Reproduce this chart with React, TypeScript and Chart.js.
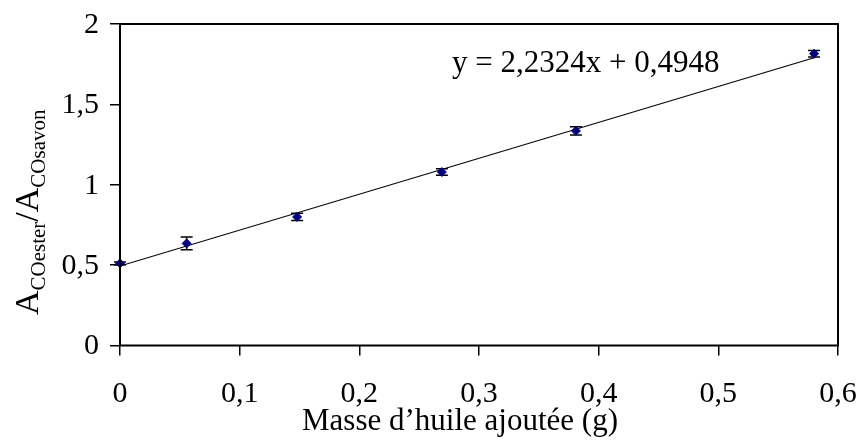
import React, { useEffect, useRef } from "react";
import { Chart, registerables } from "chart.js";

Chart.register(...registerables);

// ---- data ----
const massX = [0, 0.0557, 0.148, 0.269, 0.381, 0.58];
const ratioY = [0.511, 0.635, 0.8, 1.079, 1.335, 1.815];
const errorY = [0.008, 0.04, 0.022, 0.02, 0.026, 0.02];
const trendX = [0, 0.58];
const trendY = [0.4948, 1.7896];
const xTickValues = [0, 0.1, 0.2, 0.3, 0.4, 0.5, 0.6];
const xTickLabels = ["0", "0,1", "0,2", "0,3", "0,4", "0,5", "0,6"];
const yTickValues = [0, 0.5, 1, 1.5, 2];
const yTickLabels = ["0", "0,5", "1", "1,5", "2"];
const equationText = "y = 2,2324x + 0,4948";
const xTitleText = "Masse d\u2019huile ajoutée (g)";
const yTitleParts = [
  { text: "A", sub: false },
  { text: "COester", sub: true },
  { text: "/", sub: false },
  { text: "A", sub: false },
  { text: "COsavon", sub: true },
];

const FONT = "'Liberation Serif', 'Times New Roman', serif";

const decorPlugin = {
  id: "decor",
  beforeDatasetsDraw(chart: any) {
    const { ctx, scales } = chart;
    const x = scales.x;
    const y = scales.y;
    ctx.save();
    ctx.strokeStyle = "#000";
    ctx.lineWidth = 1.5;
    massX.forEach((mx, i) => {
      const px = x.getPixelForValue(mx);
      const top = y.getPixelForValue(ratioY[i] + errorY[i]);
      const bot = y.getPixelForValue(ratioY[i] - errorY[i]);
      ctx.beginPath();
      ctx.moveTo(px, top);
      ctx.lineTo(px, bot);
      ctx.moveTo(px - 6, top);
      ctx.lineTo(px + 6, top);
      ctx.moveTo(px - 6, bot);
      ctx.lineTo(px + 6, bot);
      ctx.stroke();
    });
    ctx.restore();
  },
  afterDraw(chart: any) {
    const { ctx, chartArea, scales } = chart;
    const x = scales.x;
    const y = scales.y;
    ctx.save();
    // plot box
    ctx.strokeStyle = "#000";
    ctx.lineWidth = 2;
    ctx.strokeRect(
      chartArea.left,
      chartArea.top,
      chartArea.right - chartArea.left,
      chartArea.bottom - chartArea.top
    );
    ctx.fillStyle = "#000";
    // tick labels
    ctx.font = `30px ${FONT}`;
    ctx.textAlign = "center";
    ctx.textBaseline = "middle";
    xTickValues.forEach((v, i) => {
      ctx.fillText(xTickLabels[i], x.getPixelForValue(v), 394);
    });
    ctx.textAlign = "right";
    yTickValues.forEach((v, i) => {
      ctx.fillText(yTickLabels[i], chartArea.left - 21, y.getPixelForValue(v) + 1);
    });
    // equation
    ctx.font = `31px ${FONT}`;
    ctx.textAlign = "left";
    ctx.textBaseline = "alphabetic";
    ctx.fillText(equationText, 452, 72);
    // x title
    ctx.textAlign = "center";
    ctx.font = `31px ${FONT}`;
    ctx.fillText(xTitleText, 460, 430);
    // y title (rotated)
    ctx.translate(38, 315);
    ctx.rotate(-Math.PI / 2);
    ctx.textAlign = "left";
    let cx = 0;
    yTitleParts.forEach((p) => {
      ctx.font = p.sub ? `21px ${FONT}` : `34px ${FONT}`;
      ctx.fillText(p.text, cx, p.sub ? 7 : 0);
      cx += ctx.measureText(p.text).width;
    });
    ctx.restore();
  },
};

export default function App() {
  const canvasRef = useRef<HTMLCanvasElement | null>(null);

  useEffect(() => {
    if (!canvasRef.current) return;
    const chart = new Chart(canvasRef.current, {
      type: "scatter",
      data: {
        datasets: [
          {
            label: "points",
            data: massX.map((v, i) => ({ x: v, y: ratioY[i] })),
            pointStyle: "rectRot",
            pointRadius: 4.5,
            backgroundColor: "#000080",
            borderColor: "#000080",
            showLine: false,
            order: 0,
            clip: false as any,
          },
          {
            label: "trend",
            data: trendX.map((v, i) => ({ x: v, y: trendY[i] })),
            showLine: true,
            borderColor: "#000",
            borderWidth: 1.1,
            pointRadius: 0,
            order: 1,
          },
        ],
      },
      options: {
        animation: false,
        responsive: false,
        maintainAspectRatio: false,
        layout: { padding: { left: 0, right: 22, top: 24, bottom: 0 } },
        plugins: {
          legend: { display: false },
          tooltip: { enabled: false },
        },
        scales: {
          x: {
            type: "linear",
            min: 0,
            max: 0.6,
            afterBuildTicks: (s: any) => {
              s.ticks = xTickValues.map((v) => ({ value: v }));
            },
            afterFit: (s: any) => {
              s.height = 95.5;
              s.paddingLeft = 0;
              s.paddingRight = 0;
            },
            ticks: { display: false },
            grid: {
              drawOnChartArea: false,
              drawTicks: true,
              tickLength: 10,
              color: "#000",
              lineWidth: 1.5,
            },
            border: { display: false },
          },
          y: {
            type: "linear",
            min: 0,
            max: 2,
            afterBuildTicks: (s: any) => {
              s.ticks = yTickValues.map((v) => ({ value: v }));
            },
            afterFit: (s: any) => {
              s.width = 120;
              s.paddingTop = 0;
              s.paddingBottom = 0;
            },
            ticks: { display: false },
            grid: {
              drawOnChartArea: false,
              drawTicks: true,
              tickLength: 10,
              color: "#000",
              lineWidth: 1.5,
            },
            border: { display: false },
          },
        },
      },
      plugins: [decorPlugin],
    });
    return () => chart.destroy();
  }, []);

  return (
    <div style={{ position: "absolute", left: 0, top: 0, width: 860, height: 441, background: "#fff" }}>
      <canvas ref={canvasRef} width={860} height={441} style={{ width: 860, height: 441 }} />
    </div>
  );
}
